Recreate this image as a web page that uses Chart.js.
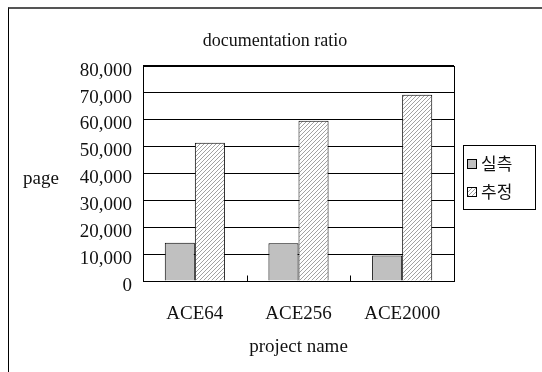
<!DOCTYPE html>
<html>
<head>
<meta charset="utf-8">
<script src="https://cdn.jsdelivr.net/npm/chart.js@4.4.1/dist/chart.umd.min.js"></script>
<style>
  html, body { margin: 0; padding: 0; background: #fff; }
  #wrap { position: relative; width: 542px; height: 372px; overflow: hidden; }
  #frame { position: absolute; left: 8px; top: 7px; right: -2px; bottom: -2px;
           border-top: 2px solid #555; border-left: 1px solid #000; }
  canvas { position: absolute; left: 0; top: 0; }
</style>
</head>
<body>
<div id="wrap">
  <div id="frame"></div>
  <canvas id="c" width="542" height="372"></canvas>
</div>
<script>
// Page counts per project: measured vs. estimated documentation
const projects = ['ACE64', 'ACE256', 'ACE2000'];
const seriesNames = ['실측', '추정'];
const measuredPages = [14200, 14000, 9500];
const estimatedPages = [51300, 59500, 69200];
const pageTicks = [0, 10000, 20000, 30000, 40000, 50000, 60000, 70000, 80000];

const SERIF = '"Liberation Serif", "Times New Roman", serif';
const KOREAN = '"Noto Sans CJK KR", sans-serif';

// diagonal hatch fill for the estimated series
function makeHatch() {
  const t = document.createElement('canvas');
  t.width = 4; t.height = 4;
  const g = t.getContext('2d');
  g.fillStyle = '#fff';
  g.fillRect(0, 0, 4, 4);
  g.strokeStyle = '#a2a2a2';
  g.lineWidth = 1;
  g.beginPath();
  g.moveTo(0, 4); g.lineTo(4, 0);
  g.moveTo(-1, 1); g.lineTo(1, -1);
  g.moveTo(3, 5); g.lineTo(5, 3);
  g.stroke();
  return g.createPattern(t, 'repeat');
}
const ctx = document.getElementById('c').getContext('2d');
const hatch = makeHatch();

// plot frame, category separators, y caption and boxed legend
const decorations = {
  id: 'decorations',
  afterDraw(chart) {
    const { ctx, chartArea: a } = chart;
    const xs = chart.scales.x;
    ctx.save();
    ctx.strokeStyle = '#000';
    ctx.lineWidth = 1;
    const L = Math.round(a.left) + 0.5, T = Math.round(a.top) + 0.5;
    const R = Math.round(a.right) + 0.5, B = Math.round(a.bottom) + 0.5;
    ctx.strokeRect(L, T, R - L, B - T);

    // small marks between categories on the bottom axis
    ctx.beginPath();
    for (let i = 1; i < projects.length; i++) {
      const px = Math.round((xs.getPixelForValue(i - 1) + xs.getPixelForValue(i)) / 2) + 0.5;
      ctx.moveTo(px, B);
      ctx.lineTo(px, B - 6);
    }
    ctx.stroke();

    // y caption, written horizontally
    ctx.fillStyle = '#111';
    ctx.font = '19px ' + SERIF;
    ctx.textAlign = 'center';
    ctx.textBaseline = 'middle';
    ctx.fillText('page', 41, (a.top + a.bottom) / 2 + 6);

    // legend box
    const w = 72, h = 64;
    const lx = Math.round(a.right) + 9;
    const ly = Math.round((a.top + a.bottom) / 2 + 3.5 - h / 2);
    ctx.strokeRect(lx + 0.5, ly + 0.5, w, h);
    ctx.font = '17px ' + KOREAN;
    ctx.textAlign = 'left';
    chart.data.datasets.forEach((ds, i) => {
      const cy = ly + 19 + i * 28;
      ctx.fillStyle = ds.backgroundColor;
      ctx.fillRect(lx + 4, Math.round(cy - 5), 10, 10);
      ctx.strokeStyle = '#000';
      ctx.strokeRect(lx + 4.5, Math.round(cy - 5) + 0.5, 9, 9);
      ctx.fillStyle = '#111';
      ctx.fillText(ds.label, lx + 18, cy);
    });
    ctx.restore();
  }
};

Chart.defaults.font.family = SERIF;
Chart.defaults.font.size = 19;
Chart.defaults.color = '#111';

new Chart(ctx, {
  type: 'bar',
  data: {
    labels: projects,
    datasets: [
      { label: seriesNames[0], data: measuredPages, backgroundColor: '#c0c0c0',
        borderColor: '#000', borderWidth: 1 },
      { label: seriesNames[1], data: estimatedPages, backgroundColor: hatch,
        borderColor: '#000', borderWidth: 1 }
    ]
  },
  options: {
    responsive: false,
    animation: false,
    layout: { padding: { left: 8, right: 0, top: 0, bottom: 0 } },
    datasets: { bar: { categoryPercentage: 0.58, barPercentage: 1.0 } },
    plugins: {
      legend: { display: false },
      tooltip: { enabled: false },
      title: {
        display: true,
        text: 'documentation ratio',
        font: { family: SERIF, size: 18, weight: 'normal' },
        color: '#111',
        padding: { top: 30, bottom: 14 }
      }
    },
    scales: {
      x: {
        grid: { display: false, drawTicks: false },
        border: { display: true, color: '#000' },
        ticks: { padding: 22, font: { size: 19 } },
        title: {
          display: true, text: 'project name',
          font: { size: 19 }, padding: { top: 0, bottom: 14 }
        },
        afterFit(s) { s.height = 91; }
      },
      y: {
        min: 0, max: 80000,
        grid: { color: '#000', lineWidth: 1, drawTicks: false },
        border: { display: true, color: '#000' },
        ticks: {
          padding: 11,
          labelOffset: 5,
          font: { size: 19 },
          callback: v => v.toLocaleString('en-US')
        },
        afterBuildTicks(s) { s.ticks = pageTicks.map(v => ({ value: v })); },
        afterFit(s) { s.width = 135; }
      },
      legendSpace: {
        type: 'linear', axis: 'y', position: 'right', display: true,
        grid: { display: false, drawTicks: false },
        border: { display: false },
        ticks: { display: false },
        afterFit(s) { s.width = 88; }
      }
    }
  },
  plugins: [decorations]
});
</script>
</body>
</html>
